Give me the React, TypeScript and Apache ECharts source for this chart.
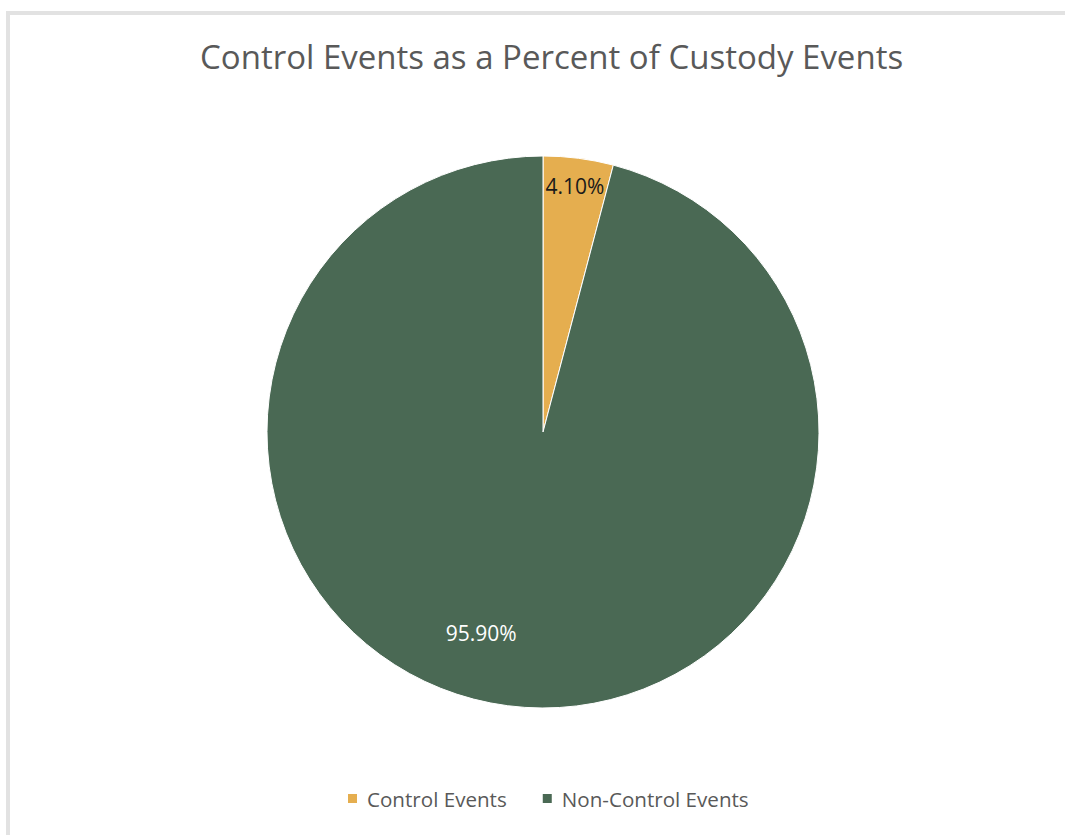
import React, { useEffect, useRef } from "react";
import * as echarts from "echarts";

const categories = ["Control Events", "Non-Control Events"];
const percentValues = [4.1, 95.9];
const sliceColors = ["#E5AE4F", "#4A6954"];
const labelColors = ["#1a1a1a", "#ffffff"];
const titleText = "Control Events as a Percent of Custody Events";

export default function App() {
  const ref = useRef<HTMLDivElement>(null);
  useEffect(() => {
    document.body.style.margin = "0";
    const chart = echarts.init(ref.current!, null, { renderer: "svg" });
    const data = categories.map((name, i) => ({
      name,
      value: percentValues[i],
      itemStyle: { color: sliceColors[i] },
    }));
    chart.setOption({
      animation: false,
      backgroundColor: "#ffffff",
      title: {
        text: titleText,
        left: 195,
        top: 35,
        textStyle: {
          fontFamily: "Open Sans",
          fontSize: 33,
          fontWeight: "normal",
          color: "#595959",
        },
      },
      legend: {
        bottom: 21,
        left: 341,
        icon: "rect",
        itemWidth: 11,
        itemHeight: 11,
        itemGap: 34,
        data: categories,
        textStyle: {
          fontFamily: "Open Sans",
          fontSize: 20.6,
          color: "#595959",
          padding: [0, 0, 0, 4],
        },
      },
      graphic: [
        { type: "rect", shape: { x: 6, y: 11, width: 1059, height: 4 }, style: { fill: "#e2e2e2" }, silent: true },
        { type: "rect", shape: { x: 6, y: 11, width: 4, height: 824 }, style: { fill: "#e2e2e2" }, silent: true },
      ],
      series: [
        {
          type: "pie",
          center: [543, 432],
          radius: [0, 276],
          startAngle: 90,
          clockwise: true,
          silent: true,
          label: { show: false },
          labelLine: { show: false },
          itemStyle: { borderColor: "#ffffff", borderWidth: 1 },
          data,
        },
        {
          type: "pie",
          center: [543, 432],
          radius: [214, 276],
          startAngle: 90,
          clockwise: true,
          silent: true,
          itemStyle: { color: "transparent" },
          labelLine: { show: false },
          label: {
            show: true,
            position: "inside",
            fontFamily: "Open Sans",
            fontSize: 21,
            formatter: (p: any) => p.value.toFixed(2) + "%",
          },
          labelLayout: (p: any) => (p.dataIndex === 1 ? { dx: -30, dy: -45 } : {}),
          data: categories.map((name, i) => ({
            name,
            value: percentValues[i],
            itemStyle: { color: "transparent" },
            label: { color: labelColors[i] },
          })),
        },
      ],
    });
    return () => chart.dispose();
  }, []);
  return (
    <div
      ref={ref}
      style={{ position: "absolute", left: 0, top: 0, width: 1065, height: 835 }}
    />
  );
}
